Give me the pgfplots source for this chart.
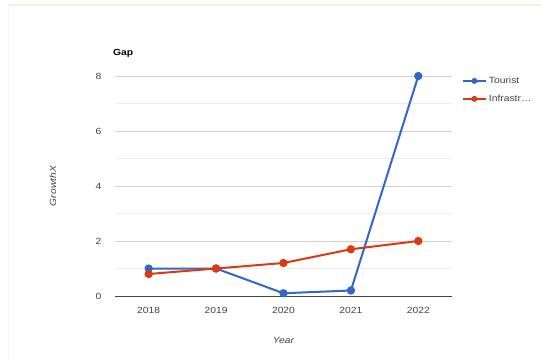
\documentclass[border=0pt]{standalone}
\usepackage{pgfplots}
\pgfplotsset{compat=1.18}
\usepackage{fontspec}
\setmainfont[FakeStretch=1.15]{Liberation Sans}
\definecolor{gblue}{HTML}{3366CC}
\definecolor{gred}{HTML}{DC3912}
\definecolor{tickgray}{HTML}{444444}
\definecolor{majgrid}{HTML}{D0D0D0}
\definecolor{mingrid}{HTML}{EDEDED}
\begin{document}
\begin{tikzpicture}
\useasboundingbox (0bp,0bp) rectangle (541bp,360bp);
\fill[white] (0bp,0bp) rectangle (541bp,360bp);
\draw[color={rgb,255:red,250;green,236;blue,224}, line width=2bp] (8bp,355bp) -- (541bp,355bp);
\draw[color={rgb,255:red,245;green,245;blue,245}, line width=1bp] (8bp,0bp) -- (8bp,355bp);
\node[anchor=west, font=\fontsize{9}{11}\selectfont\bfseries, inner sep=0pt] at (113bp,307bp) {Gap};
\begin{axis}[
  at={(115bp,64bp)}, anchor=south west,
  width=337bp, height=220bp, scale only axis,
  xmin=2017.5, xmax=2022.5, ymin=0, ymax=8,
  xtick={2018,2019,2020,2021,2022},
  xticklabels={2018,2019,2020,2021,2022},
  ytick={0,2,4,6,8},
  minor ytick={1,3,5,7},
  ymajorgrids, yminorgrids,
  major grid style={majgrid, line width=0.7bp},
  minor grid style={mingrid, line width=0.7bp},
  axis x line*=bottom, axis y line*=left,
  x axis line style={draw=tickgray, line width=0.8bp, -},
  y axis line style={draw=none},
  major tick length=0pt, minor tick length=0pt,
  tick style={draw=none},
  ticklabel style={font=\fontsize{9}{11}\selectfont, text=tickgray},
  /pgf/number format/assume math mode=true,
  /pgf/number format/1000 sep={},
  yticklabel style={anchor=east, xshift=-10bp},
  xticklabel style={yshift=-8bp},
  xlabel={\itshape Year}, ylabel={\itshape GrowthX},
  label style={font=\fontsize{9}{11}\selectfont, text=tickgray},
  xlabel style={at={(axis description cs:0.5,0)}, anchor=center, yshift=-44bp},
  every axis y label/.append style={at={(axis description cs:0,0.5)}, anchor=center, yshift=62bp},
  legend style={at={(1.02,1.015)}, anchor=north west, draw=none, fill=none,
    font=\fontsize{9}{11}\selectfont, text=tickgray, row sep=6bp,
    legend cell align=left},
  legend image code/.code={
    \draw[#1, line width=2bp] (0bp,0bp) -- (23bp,0bp);
    \fill[#1, draw=none] (11.5bp,0bp) circle (3bp);
  },
  clip=false,
]
\addplot[color=gblue, line width=2bp, mark=*, mark size=3.1bp, mark options={draw=gblue, fill=gblue}]
  coordinates {(2018,1.0) (2019,1.0) (2020,0.1) (2021,0.2) (2022,8.0)};
\addlegendentry{Tourist}
\addplot[color=gred, line width=2bp, mark=*, mark size=3.1bp, mark options={draw=gred, fill=gred}]
  coordinates {(2018,0.8) (2019,1.0) (2020,1.2) (2021,1.7) (2022,2.0)};
\addlegendentry{Infrastr\ldots}
\end{axis}
\end{tikzpicture}
\end{document}
